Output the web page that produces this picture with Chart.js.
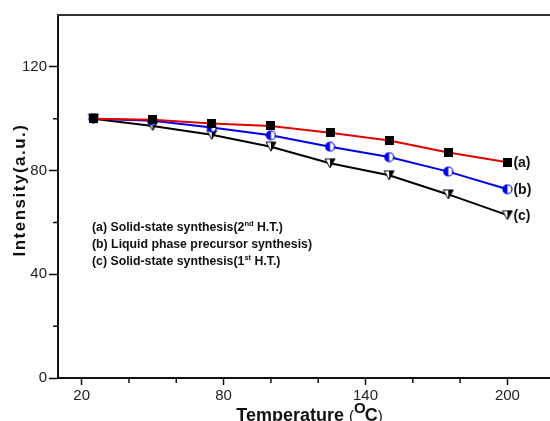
<!DOCTYPE html>
<html>
<head>
<meta charset="utf-8">
<script src="https://cdn.jsdelivr.net/npm/chart.js@4"></script>
<style>
  body { margin: 0; background: #fff; }
  #chart { display: block; }
</style>
</head>
<body>
<canvas id="chart" width="550" height="421"></canvas>
<script>
const temps = [25, 50, 75, 100, 125, 150, 175, 200];
const seriesA = [100, 99.6, 98.2, 97.2, 94.6, 91.6, 87.0, 83.2];
const seriesB = [100, 99.2, 96.6, 93.6, 89.2, 85.2, 79.6, 72.8];
const seriesC = [100, 97.2, 93.8, 89.2, 82.8, 78.2, 70.8, 62.8];

const xMajor = [20, 80, 140, 200];
const xMinor = [40, 60, 100, 120, 160, 180];
const yMajor = [0, 40, 80, 120];
const yMinor = [20, 60, 100];

const legendLines = [
  ["(a) Solid-state synthesis(2", "nd", " H.T.)"],
  ["(b) Liquid phase precursor synthesis)", "", ""],
  ["(c) Solid-state synthesis(1", "st", " H.T.)"],
];
const endLabels = ["(a)", "(b)", "(c)"];

// marker images
function squareMarker() {
  const c = document.createElement("canvas");
  c.width = 9; c.height = 9;
  const g = c.getContext("2d");
  g.fillStyle = "#000";
  g.fillRect(0, 0, 9, 9);
  return c;
}
function halfCircleMarker() {
  const c = document.createElement("canvas");
  c.width = 11; c.height = 11;
  const g = c.getContext("2d");
  g.fillStyle = "#fff";
  g.beginPath(); g.arc(5.5, 5.5, 4.5, 0, Math.PI * 2); g.fill();
  g.fillStyle = "#0000e6";
  g.beginPath(); g.arc(5.5, 5.5, 4.5, Math.PI / 2, Math.PI * 1.5); g.closePath(); g.fill();
  g.strokeStyle = "#0000e6"; g.lineWidth = 1.2;
  g.beginPath(); g.arc(5.5, 5.5, 4.5, 0, Math.PI * 2); g.stroke();
  return c;
}
function halfTriangleMarker() {
  const c = document.createElement("canvas");
  c.width = 12; c.height = 11;
  const g = c.getContext("2d");
  g.fillStyle = "#fff";
  g.beginPath(); g.moveTo(1, 1); g.lineTo(11, 1); g.lineTo(6, 10); g.closePath(); g.fill();
  g.fillStyle = "#000";
  g.beginPath(); g.moveTo(6, 1); g.lineTo(11, 1); g.lineTo(6, 10); g.closePath(); g.fill();
  g.strokeStyle = "#000"; g.lineWidth = 1;
  g.beginPath(); g.moveTo(1, 1); g.lineTo(11, 1); g.lineTo(6, 10); g.closePath(); g.stroke();
  return c;
}

function toPoints(ys) {
  return temps.map((t, i) => ({ x: t, y: ys[i] }));
}

const extras = {
  id: "extras",
  afterDraw(chart) {
    const { ctx, chartArea, scales } = chart;
    const x = scales.x, y = scales.y;
    ctx.save();
    // top frame line
    ctx.strokeStyle = "#333";
    ctx.lineWidth = 2;
    ctx.beginPath();
    ctx.moveTo(chartArea.left - 1, chartArea.top);
    ctx.lineTo(chartArea.right, chartArea.top);
    ctx.stroke();
    // minor ticks
    ctx.strokeStyle = "#111";
    ctx.lineWidth = 1.5;
    ctx.beginPath();
    xMinor.forEach(v => {
      const px = x.getPixelForValue(v);
      ctx.moveTo(px, chartArea.bottom);
      ctx.lineTo(px, chartArea.bottom + 5);
    });
    yMinor.forEach(v => {
      const py = y.getPixelForValue(v);
      ctx.moveTo(chartArea.left, py);
      ctx.lineTo(chartArea.left - 5, py);
    });
    ctx.stroke();

    // y title
    ctx.fillStyle = "#111";
    ctx.font = "bold 17px 'Liberation Sans', Arial, sans-serif";
    ctx.letterSpacing = "1.5px";
    ctx.textAlign = "center";
    ctx.textBaseline = "middle";
    ctx.save();
    ctx.translate(20, 190);
    ctx.rotate(-Math.PI / 2);
    ctx.fillText("Intensity(a.u.)", 0, 0);
    ctx.restore();
    ctx.letterSpacing = "0px";

    // x title with superscript degree
    ctx.textAlign = "left";
    ctx.textBaseline = "alphabetic";
    const big = "bold 18px 'Liberation Sans', Arial, sans-serif";
    const paren = "15px 'Liberation Sans', Arial, sans-serif";
    const sup = "bold 15px 'Liberation Sans', Arial, sans-serif";
    ctx.font = big; const w1 = ctx.measureText("Temperature ").width;
    ctx.font = paren; const wp = ctx.measureText("(").width;
    ctx.font = sup; const wo = ctx.measureText("O").width;
    ctx.font = big; const wc = ctx.measureText("C").width;
    ctx.font = paren; const wq = ctx.measureText(")").width;
    let tx = 310 - (w1 + wp + wo + wc + wq) / 2;
    const base = 421;
    ctx.font = big; ctx.fillText("Temperature ", tx, base); tx += w1;
    ctx.font = paren; ctx.fillText("(", tx, base); tx += wp;
    ctx.font = sup; ctx.fillText("O", tx, base - 8);
    ctx.font = big; ctx.fillText("C", tx + wo - 1, base); tx += wo + wc - 1;
    ctx.font = paren; ctx.fillText(")", tx, base);

    // legend text block
    const main = "bold 12.3px 'Liberation Sans', Arial, sans-serif";
    const small = "bold 7.5px 'Liberation Sans', Arial, sans-serif";
    ctx.textBaseline = "middle";
    legendLines.forEach((parts, i) => {
      let lx = 92;
      const ly = 228 + i * 17;
      ctx.font = main; ctx.fillText(parts[0], lx, ly); lx += ctx.measureText(parts[0]).width;
      if (parts[1]) {
        ctx.font = small; ctx.fillText(parts[1], lx, ly - 4); lx += ctx.measureText(parts[1]).width;
        ctx.font = main; ctx.fillText(parts[2], lx, ly);
      }
    });

    // end labels
    ctx.font = "bold 14px 'Liberation Sans', Arial, sans-serif";
    chart.data.datasets.forEach((ds, i) => {
      const last = ds.data[ds.data.length - 1];
      ctx.fillText(endLabels[i], x.getPixelForValue(last.x) + 6, y.getPixelForValue(last.y) + 1);
    });
    ctx.restore();
  },
};

new Chart(document.getElementById("chart"), {
  type: "line",
  data: {
    datasets: [
      {
        label: "(a)",
        data: toPoints(seriesA),
        borderColor: "#e00000",
        borderWidth: 2,
        pointStyle: squareMarker(),
        clip: false,
      },
      {
        label: "(b)",
        data: toPoints(seriesB),
        borderColor: "#0000e6",
        borderWidth: 2,
        pointStyle: halfCircleMarker(),
        clip: false,
      },
      {
        label: "(c)",
        data: toPoints(seriesC),
        borderColor: "#000",
        borderWidth: 2,
        pointStyle: halfTriangleMarker(),
        clip: false,
      },
    ],
  },
  options: {
    responsive: false,
    animation: false,
    events: [],
    layout: { autoPadding: false, padding: { top: 15, right: 0, left: 0, bottom: 0 } },
    plugins: {
      legend: { display: false },
      tooltip: { enabled: false },
    },
    scales: {
      x: {
        type: "linear",
        min: 10,
        max: 218,
        afterBuildTicks: s => { s.ticks = xMajor.map(v => ({ value: v })); },
        afterFit: s => { s.height = 43; },
        grid: { drawOnChartArea: false, drawTicks: true, tickLength: 7, tickColor: "#111", tickWidth: 1.5 },
        border: { color: "#111", width: 2 },
        ticks: { color: "#222", padding: 2, maxRotation: 0, font: { family: "'Liberation Sans', Arial", size: 15 } },
      },
      y: {
        min: 0,
        max: 140,
        afterBuildTicks: s => { s.ticks = yMajor.map(v => ({ value: v })); },
        afterFit: s => { s.width = 58; },
        grid: { drawOnChartArea: false, drawTicks: true, tickLength: 9, tickColor: "#111", tickWidth: 1.5 },
        border: { color: "#111", width: 2 },
        ticks: { color: "#222", padding: 2, font: { family: "'Liberation Sans', Arial", size: 15 } },
      },
    },
  },
  plugins: [extras],
});
</script>
</body>
</html>
